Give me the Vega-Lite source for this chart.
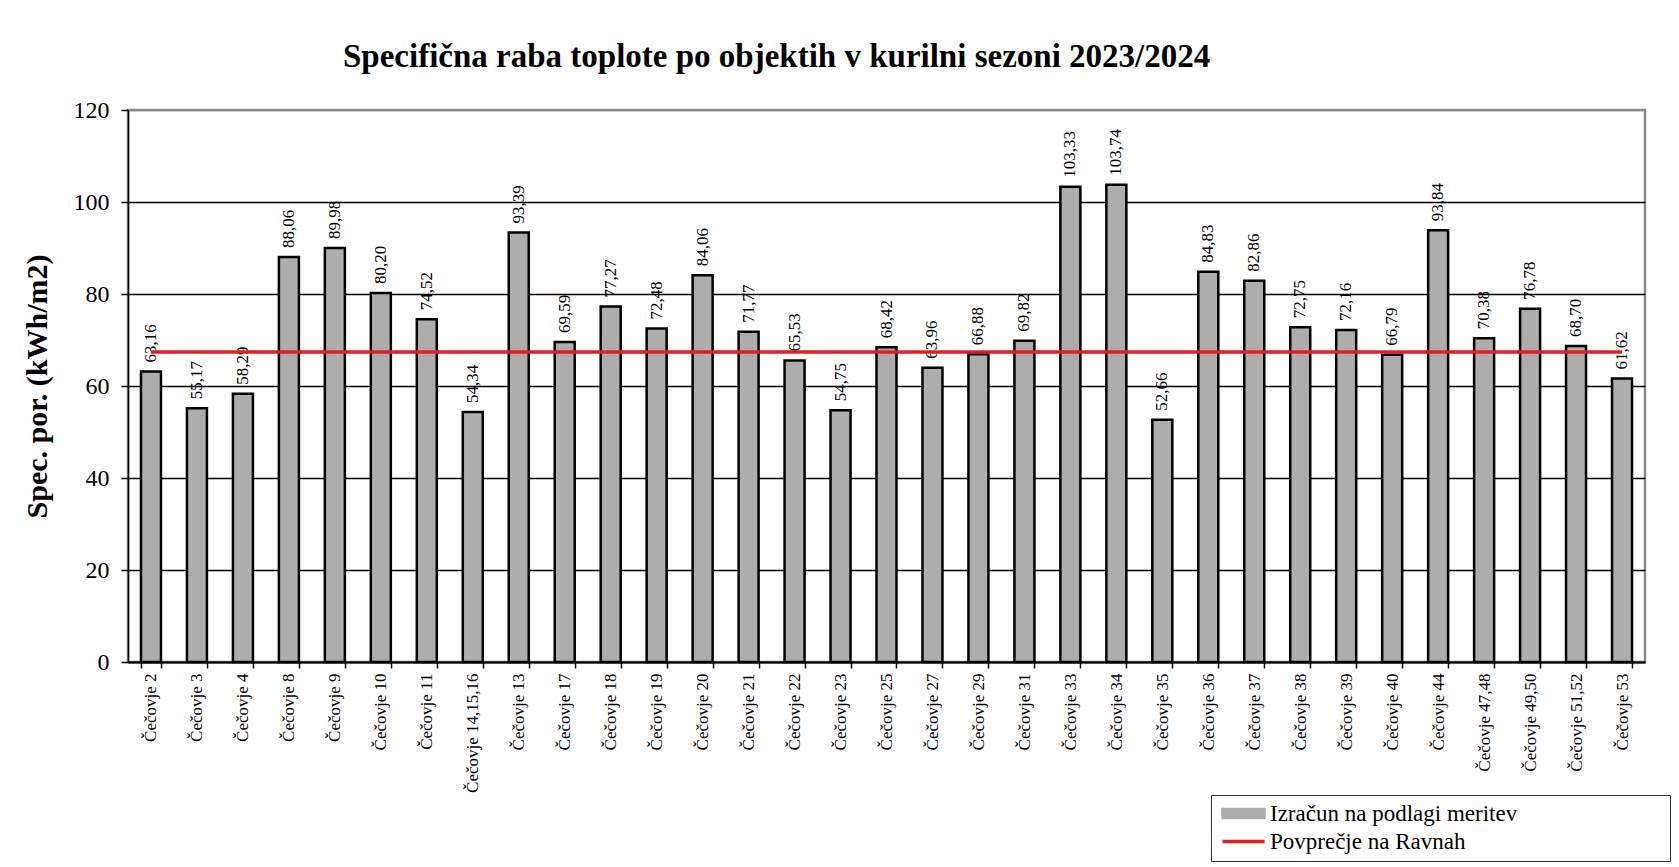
{
  "$schema": "https://vega.github.io/schema/vega-lite/v6.json",
  "width": 1517,
  "height": 552,
  "autosize": {"type": "none"},
  "padding": {"left": 128, "top": 110, "right": 34, "bottom": 205},
  "background": "white",
  "config": {
    "font": "Liberation Serif",
    "locale": {"number": {"decimal": ",", "thousands": ".", "grouping": [3], "currency": ["", " €"]}},
    "view": {"stroke": "#8a8a8a", "strokeWidth": 2.5}
  },
  "title": {
    "text": "Specifična raba toplote po objektih v kurilni  sezoni 2023/2024",
    "font": "Liberation Serif",
    "fontSize": 33,
    "fontWeight": "bold",
    "color": "#000",
    "anchor": "start",
    "frame": "group",
    "dx": 215,
    "offset": 24
  },
  "data": {
    "values": [
      {"objekt": "Čečovje 2", "raba": 63.16},
      {"objekt": "Čečovje 3", "raba": 55.17},
      {"objekt": "Čečovje 4", "raba": 58.29},
      {"objekt": "Čečovje 8", "raba": 88.06},
      {"objekt": "Čečovje 9", "raba": 89.98},
      {"objekt": "Čečovje 10", "raba": 80.20},
      {"objekt": "Čečovje 11", "raba": 74.52},
      {"objekt": "Čečovje 14,15,16", "raba": 54.34},
      {"objekt": "Čečovje 13", "raba": 93.39},
      {"objekt": "Čečovje 17", "raba": 69.59},
      {"objekt": "Čečovje 18", "raba": 77.27},
      {"objekt": "Čečovje 19", "raba": 72.48},
      {"objekt": "Čečovje 20", "raba": 84.06},
      {"objekt": "Čečovje 21", "raba": 71.77},
      {"objekt": "Čečovje 22", "raba": 65.53},
      {"objekt": "Čečovje 23", "raba": 54.75},
      {"objekt": "Čečovje 25", "raba": 68.42},
      {"objekt": "Čečovje 27", "raba": 63.96},
      {"objekt": "Čečovje 29", "raba": 66.88},
      {"objekt": "Čečovje 31", "raba": 69.82},
      {"objekt": "Čečovje 33", "raba": 103.33},
      {"objekt": "Čečovje 34", "raba": 103.74},
      {"objekt": "Čečovje 35", "raba": 52.66},
      {"objekt": "Čečovje 36", "raba": 84.83},
      {"objekt": "Čečovje 37", "raba": 82.86},
      {"objekt": "Čečovje 38", "raba": 72.75},
      {"objekt": "Čečovje 39", "raba": 72.16},
      {"objekt": "Čečovje 40", "raba": 66.79},
      {"objekt": "Čečovje 44", "raba": 93.84},
      {"objekt": "Čečovje 47,48", "raba": 70.38},
      {"objekt": "Čečovje 49,50", "raba": 76.78},
      {"objekt": "Čečovje 51,52", "raba": 68.70},
      {"objekt": "Čečovje 53", "raba": 61.62}
    ]
  },
  "encoding": {
    "x": {
      "field": "objekt",
      "type": "nominal",
      "sort": null,
      "scale": {"paddingInner": 0.565, "paddingOuter": 0.2825},
      "axis": {
        "title": null,
        "labelAngle": -90,
        "labelFont": "Liberation Serif",
        "labelFontSize": 17,
        "labelColor": "#000",
        "labelPadding": 5,
        "tickBand": "extent",
        "tickSize": 6,
        "tickColor": "#000",
        "tickWidth": 1.5,
        "domainColor": "#000",
        "domainWidth": 2,
        "grid": false
      }
    },
    "color": {
      "datum": "Izračun na podlagi meritev",
      "type": "nominal",
      "scale": {
        "domain": ["Izračun na podlagi meritev", "Povprečje na Ravnah"],
        "range": ["#adadad", "#e0201c"]
      },
      "legend": {
        "orient": "none",
        "legendX": 1083,
        "legendY": 685,
        "title": " ",
        "titleOrient": "right",
        "titlePadding": 146,
        "titleFontSize": 10,
        "strokeColor": "#333",
        "fillColor": "white",
        "padding": 7,
        "labelFont": "Liberation Serif",
        "labelFontSize": 23,
        "labelColor": "#000",
        "labelLimit": 0,
        "symbolSize": 196,
        "symbolOffset": 14,
        "labelOffset": 15,
        "rowPadding": 4,
        "symbolStrokeColor": "#000",
        "symbolStrokeWidth": 2.5,
        "encoding": {
          "symbols": {
            "shape": {"value": {"expr": "datum.value === 'Povprečje na Ravnah' ? 'M-3,0H3' : 'M-3,-0.65H3V0.65H-3Z'"}},
            "fill": {"value": {"expr": "datum.value === 'Povprečje na Ravnah' ? 'transparent' : '#adadad'"}},
            "stroke": {"value": {"expr": "datum.value === 'Povprečje na Ravnah' ? '#e0201c' : '#000000'"}},
            "strokeWidth": {"value": {"expr": "datum.value === 'Povprečje na Ravnah' ? 3.5 : 2.5"}},
            "strokeOpacity": {"value": 1}
          }
        }
      }
    }
  },
  "layer": [
    {
      "mark": {"type": "bar", "stroke": "#000", "strokeWidth": 2.5},
      "encoding": {
        "y": {
          "field": "raba",
          "type": "quantitative",
          "scale": {"domain": [0, 120]},
          "axis": {
            "title": "Spec. por. (kWh/m2)",
            "titleFont": "Liberation Serif",
            "titleFontSize": 30,
            "titleFontWeight": "bold",
            "titleColor": "#000",
            "titlePadding": 21,
            "values": [0, 20, 40, 60, 80, 100, 120],
            "labelFont": "Liberation Serif",
            "labelFontSize": 24,
            "labelColor": "#000",
            "labelPadding": 12,
            "tickSize": 7,
            "tickColor": "#000",
            "tickWidth": 1.5,
            "domainColor": "#000",
            "domainWidth": 1.5,
            "grid": true,
            "gridColor": {"condition": {"test": "datum.value === 120", "value": "#8a8a8a"}, "value": "#000"},
            "gridWidth": 1.3,
            "gridOpacity": 1
          }
        }
      }
    },
    {
      "mark": {"type": "text", "angle": 270, "align": "left", "baseline": "middle", "dx": 9, "font": "Liberation Serif", "fontSize": 17},
      "encoding": {
        "y": {"field": "raba", "type": "quantitative"},
        "text": {"field": "raba", "type": "quantitative", "format": ".2f"},
        "color": {"value": "#000"}
      }
    },
    {
      "mark": {"type": "line", "strokeWidth": 3.5},
      "encoding": {
        "y": {"datum": 67.4, "type": "quantitative"},
        "color": {"datum": "Povprečje na Ravnah", "type": "nominal"}
      }
    }
  ]
}
